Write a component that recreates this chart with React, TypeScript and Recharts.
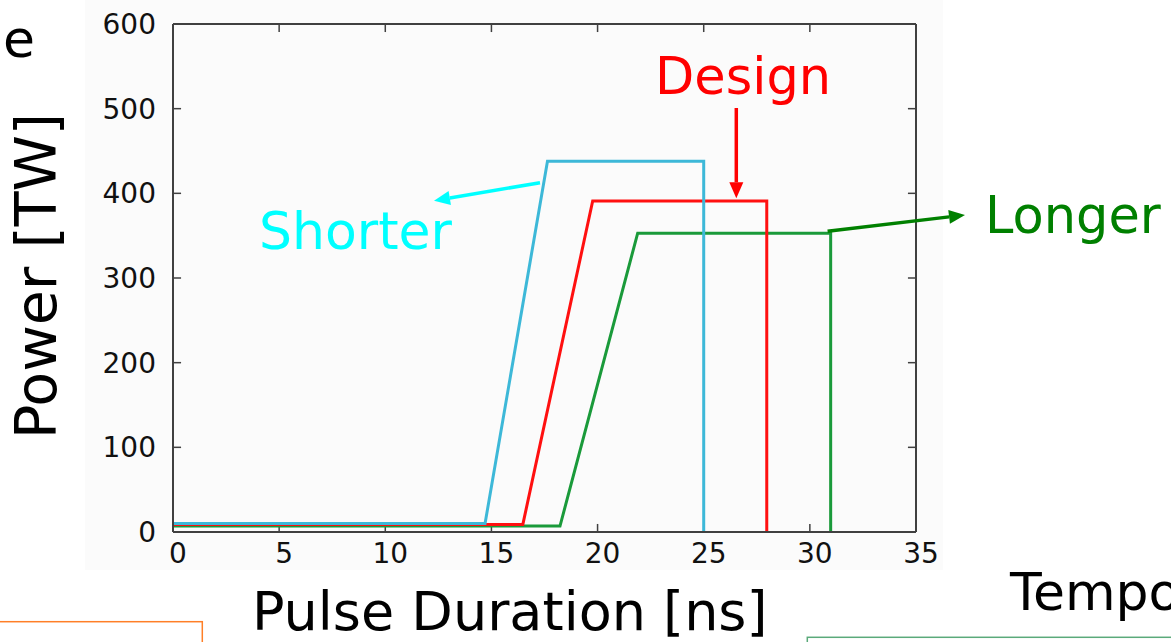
import { LineChart, Line, XAxis, YAxis, ReferenceLine } from "recharts";

// pulse shapes: time [ns] vs power [TW]
const shorterTime = [0, 14.7, 17.64, 25.0, 25.0];
const shorterPower = [10, 10, 438, 438, 0];

const designTime = [0, 16.48, 19.77, 27.97, 27.97];
const designPower = [9, 9, 391, 391, 0];

const longerTime = [0, 18.23, 21.89, 30.98, 30.98];
const longerPower = [7, 7, 353, 353, 0];

const xTicks = [0, 5, 10, 15, 20, 25, 30, 35];
const yTicks = [0, 100, 200, 300, 400, 500, 600];

const toRows = (xs: number[], ys: number[]) =>
  xs.map((x, i) => ({ x, y: ys[i] }));

const shorterData = toRows(shorterTime, shorterPower);
const designData = toRows(designTime, designPower);
const longerData = toRows(longerTime, longerPower);

const FONT = '"DejaVu Sans", Verdana, sans-serif';
const AXIS = "#404040";
// inward tick length, in axis units (about 8px)
const TICK_X = 0.38;
const TICK_Y = 9.5;

const Arrow = ({
  x1,
  y1,
  x2,
  y2,
  color,
  head = 16,
  half = 7,
  width = 3.5,
}: {
  x1: number;
  y1: number;
  x2: number;
  y2: number;
  color: string;
  head?: number;
  half?: number;
  width?: number;
}) => {
  const dx = x2 - x1;
  const dy = y2 - y1;
  const len = Math.sqrt(dx * dx + dy * dy);
  const ux = dx / len;
  const uy = dy / len;
  const bx = x2 - ux * head;
  const by = y2 - uy * head;
  const pts = [
    `${x2},${y2}`,
    `${bx - uy * half},${by + ux * half}`,
    `${bx + uy * half},${by - ux * half}`,
  ].join(" ");
  return (
    <g>
      <line x1={x1} y1={y1} x2={bx} y2={by} stroke={color} strokeWidth={width} />
      <polygon points={pts} fill={color} />
    </g>
  );
};

const App = () => {
  return (
    <div
      style={{
        position: "absolute",
        left: 0,
        top: 0,
        width: 1171,
        height: 642,
        overflow: "hidden",
        background: "#ffffff",
        fontFamily: FONT,
      }}
    >
      <div
        style={{
          position: "absolute",
          left: 85,
          top: 0,
          width: 858,
          height: 570,
          background: "#fbfbfb",
        }}
      />
      <div style={{ position: "absolute", left: 0, top: 0 }}>
        <LineChart
          width={1171}
          height={642}
          margin={{ top: 24, right: 255, bottom: 80, left: 113 }}
        >
          <XAxis
            type="number"
            dataKey="x"
            domain={[0, 35]}
            ticks={xTicks}
            height={30}
            tickSize={0}
            tickMargin={11}
            axisLine={{ stroke: AXIS, strokeWidth: 2 }}
            tickLine={false}
            tick={{ fill: "#111", fontSize: 28, fontFamily: FONT, dx: 5 }}
          />
          <YAxis
            type="number"
            domain={[0, 600]}
            ticks={yTicks}
            width={60}
            tickSize={0}
            tickMargin={17}
            axisLine={{ stroke: AXIS, strokeWidth: 2 }}
            tickLine={false}
            tick={{ fill: "#111", fontSize: 28, fontFamily: FONT }}
          />

          {/* frame: top and right edges */}
          <ReferenceLine y={600} stroke={AXIS} strokeWidth={2} ifOverflow="visible" />
          <ReferenceLine x={35} stroke={AXIS} strokeWidth={2} ifOverflow="visible" />

          {/* inward ticks on all four sides */}
          {xTicks.map((t) => (
            <ReferenceLine
              key={`xb${t}`}
              segment={[
                { x: t, y: 0 },
                { x: t, y: TICK_Y },
              ]}
              stroke={AXIS}
              strokeWidth={1.5}
            />
          ))}
          {xTicks.map((t) => (
            <ReferenceLine
              key={`xt${t}`}
              segment={[
                { x: t, y: 600 },
                { x: t, y: 600 - TICK_Y },
              ]}
              stroke={AXIS}
              strokeWidth={1.5}
            />
          ))}
          {yTicks.map((t) => (
            <ReferenceLine
              key={`yl${t}`}
              segment={[
                { x: 0, y: t },
                { x: TICK_X, y: t },
              ]}
              stroke={AXIS}
              strokeWidth={1.5}
            />
          ))}
          {yTicks.map((t) => (
            <ReferenceLine
              key={`yr${t}`}
              segment={[
                { x: 35, y: t },
                { x: 35 - TICK_X, y: t },
              ]}
              stroke={AXIS}
              strokeWidth={1.5}
            />
          ))}

          <Line
            data={longerData}
            dataKey="y"
            type="linear"
            stroke="#1a9a3a"
            strokeWidth={3}
            dot={false}
            isAnimationActive={false}
          />
          <Line
            data={designData}
            dataKey="y"
            type="linear"
            stroke="#ff1010"
            strokeWidth={3}
            dot={false}
            isAnimationActive={false}
          />
          <Line
            data={shorterData}
            dataKey="y"
            type="linear"
            stroke="#3db8d8"
            strokeWidth={3}
            dot={false}
            isAnimationActive={false}
          />
        </LineChart>
      </div>
      <svg
        width={1171}
        height={642}
        style={{ position: "absolute", left: 0, top: 0, pointerEvents: "none" }}
        fontFamily={FONT}
      >
        <text x={3} y={57} fontSize={52} fill="#000">
          e
        </text>
        <text
          x={56}
          y={276}
          fontSize={57}
          fill="#000"
          textAnchor="middle"
          transform="rotate(-90, 56, 276)"
        >
          Power [TW]
        </text>
        <text x={252} y={630} fontSize={54} fill="#000">
          Pulse Duration [ns]
        </text>
        <text x={1010} y={610} fontSize={52} fill="#000">
          Tempo
        </text>

        <text x={259} y={249} fontSize={52} fill="#00ffff">
          Shorter
        </text>
        <text x={655} y={94} fontSize={51} fill="#ff0000">
          Design
        </text>
        <text x={985} y={233} fontSize={51} fill="#008000">
          Longer
        </text>

        <Arrow x1={540} y1={182.7} x2={434} y2={200.7} color="#00ffff" />
        <Arrow x1={736.3} y1={108} x2={736.3} y2={198.3} color="#ff0000" />
        <Arrow x1={827.6} y1={231.3} x2={965} y2={215} color="#008000" />

        <rect x={-2} y={621.7} width={204.3} height={40} fill="none" stroke="#ff7f27" strokeWidth={1.5} />
        <rect x={807.3} y={637.3} width={400} height={40} fill="none" stroke="#5aaa7a" strokeWidth={1.5} />
      </svg>
    </div>
  );
};

export default App;
